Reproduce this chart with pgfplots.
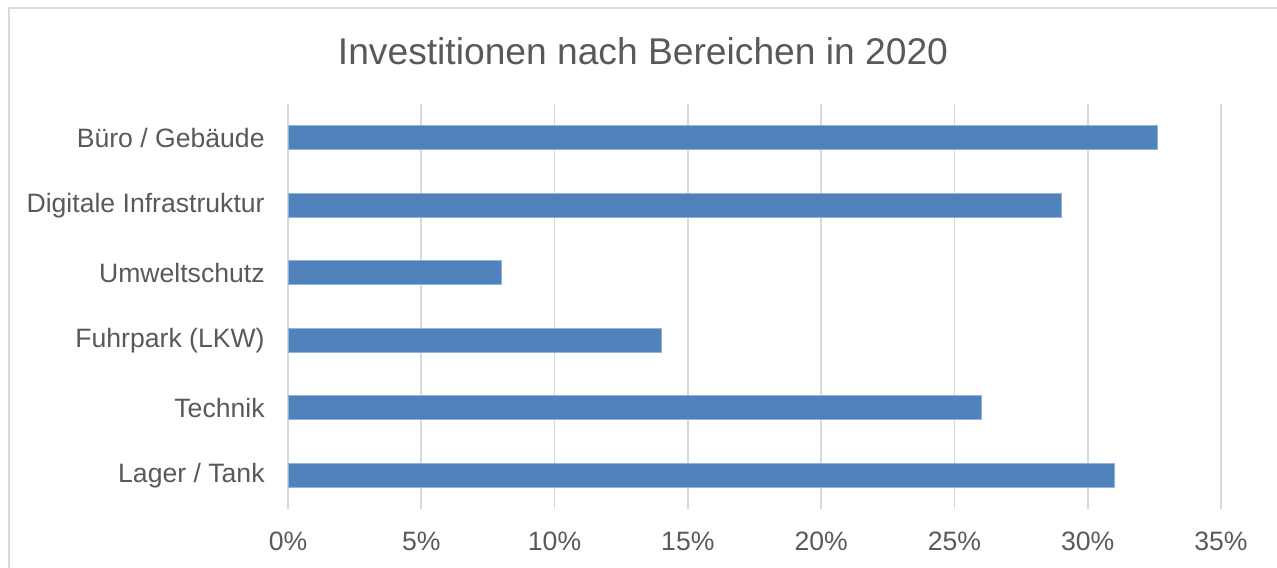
\documentclass[border=0pt]{standalone}
\usepackage{pgfplots}
\pgfplotsset{compat=1.18}
\usepackage{fontspec}
\setmainfont{Liberation Sans}
\definecolor{txt}{HTML}{595959}
\definecolor{grd}{HTML}{D9D9D9}
\definecolor{barblue}{HTML}{4F81BD}
\begin{document}
\begin{tikzpicture}
\useasboundingbox (0,0) rectangle (638.5pt,283.5pt);
\draw[grd, line width=1pt] (4.5pt,-2pt) -- (4.5pt,279.5pt) -- (642pt,279.5pt);
\node[anchor=base, text=txt, font=\fontsize{18.6pt}{22pt}\selectfont, inner sep=0pt] at (321.5pt,251pt) {Investitionen nach Bereichen in 2020};
\begin{axis}[
  at={(144pt,29pt)}, anchor=south west,
  width=466.5pt, height=202.5pt, scale only axis,
  xmin=0, xmax=35, ymin=0.5, ymax=6.5,
  xtick={0,5,10,15,20,25,30,35},
  xticklabels={0\%,5\%,10\%,15\%,20\%,25\%,30\%,35\%},
  ytick={1,2,3,4,5,6},
  yticklabels={Lager / Tank, Technik, Fuhrpark (LKW), Umweltschutz, Digitale Infrastruktur, Büro / Gebäude},
  major tick length=0pt,
  axis line style={draw=none},
  xmajorgrids, grid style={grd, line width=0.8pt},
  ticklabel style={text=txt, font=\fontsize{13.3pt}{16pt}\selectfont},
  xticklabel style={anchor=base, inner sep=0pt, yshift=-20.8pt},
  yticklabel style={anchor=east, inner sep=0pt, xshift=-11.5pt},
  xbar, bar width=0.356,
]
\addplot[fill=barblue, draw=barblue!60!white, line width=0.4pt] coordinates {
  (31,1) (26,2) (14,3) (8,4) (29,5) (32.6,6)
};
\end{axis}
\end{tikzpicture}
\end{document}
